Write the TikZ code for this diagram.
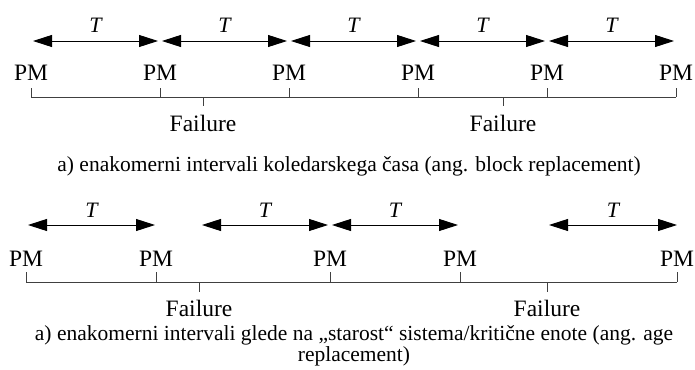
\documentclass[tikz,border=0pt]{standalone}
\usepackage{fontspec}
\setmainfont{Liberation Serif}
\usetikzlibrary{arrows.meta}
\tikzset{
  lbl/.style={font=\fontsize{23.5}{26}\selectfont, inner sep=0pt, anchor=base},
  tlbl/.style={font=\fontsize{22}{24}\selectfont\itshape, inner sep=0pt, anchor=base},
  captxt/.style={font=\fontsize{21.5}{21}\selectfont, inner sep=0pt, anchor=base, align=center},
  axis/.style={draw=black!75, line width=0.9pt},
  span/.style={draw=black, line width=0.9pt, {Triangle[length=19pt,width=12pt]}-{Triangle[length=19pt,width=12pt]}}
}
\begin{document}
\begin{tikzpicture}[x=1pt,y=-1pt]
\useasboundingbox (0,0) rectangle (695,369);
% ---------- top diagram ----------
\foreach \i/\x in {1/31,2/160,3/289,4/418,5/547,6/676}{
  \coordinate (a\i) at (\x,97);
  \coordinate (at\i) at (\x,88);
  \node[lbl] (pa\i) at (\x,80) {PM};
}
\draw[axis] (a1) -- (a6);
\foreach \i in {1,...,6}{\draw[axis] (a\i) -- (at\i);}
\coordinate (fa1) at (203,97); \coordinate (fa1b) at (203,106);
\coordinate (fa2) at (503,97); \coordinate (fa2b) at (503,106);
\draw[axis] (fa1) -- (fa1b);
\draw[axis] (fa2) -- (fa2b);
\node[lbl] (fla1) at (203,131) {Failure};
\node[lbl] (fla2) at (503,131) {Failure};
\foreach \i/\xa/\xb in {1/33/158,2/162/287,3/291/416,4/420/545,5/549/674}{
  \coordinate (sl\i) at (\xa,41);
  \coordinate (sr\i) at (\xb,41);
  \draw[span] (sl\i) -- (sr\i);
  \node[tlbl] (ta\i) at ({(\xa+\xb)/2},33) {T};
}
\node[captxt] (capa) at (349,171) {a) enakomerni intervali koledarskega časa (ang. block replacement)};
% ---------- bottom diagram ----------
\foreach \i/\x in {1/26,2/156,3/330,4/460,5/677}{
  \coordinate (b\i) at (\x,282);
  \coordinate (bt\i) at (\x,272);
  \node[lbl] (pb\i) at (\x,266) {PM};
}
\draw[axis] (b1) -- (b5);
\foreach \i in {1,...,5}{\draw[axis] (b\i) -- (bt\i);}
\coordinate (fb1) at (199,282); \coordinate (fb1b) at (199,292);
\coordinate (fb2) at (547,282); \coordinate (fb2b) at (547,292);
\draw[axis] (fb1) -- (fb1b);
\draw[axis] (fb2) -- (fb2b);
\node[lbl] (flb1) at (199,316) {Failure};
\node[lbl] (flb2) at (547,316) {Failure};
\foreach \i/\xa/\xb in {1/28/155,2/202/328,3/332/458,4/549/677}{
  \coordinate (tl\i) at (\xa,225);
  \coordinate (tr\i) at (\xb,225);
  \draw[span] (tl\i) -- (tr\i);
  \node[tlbl] (tb\i) at ({(\xa+\xb)/2},217) {T};
}
\node[captxt, anchor=north] (capb) at (354,325) {a) enakomerni intervali glede na „starost“ sistema/kritične enote (ang. age\\replacement)};
\end{tikzpicture}
\end{document}
